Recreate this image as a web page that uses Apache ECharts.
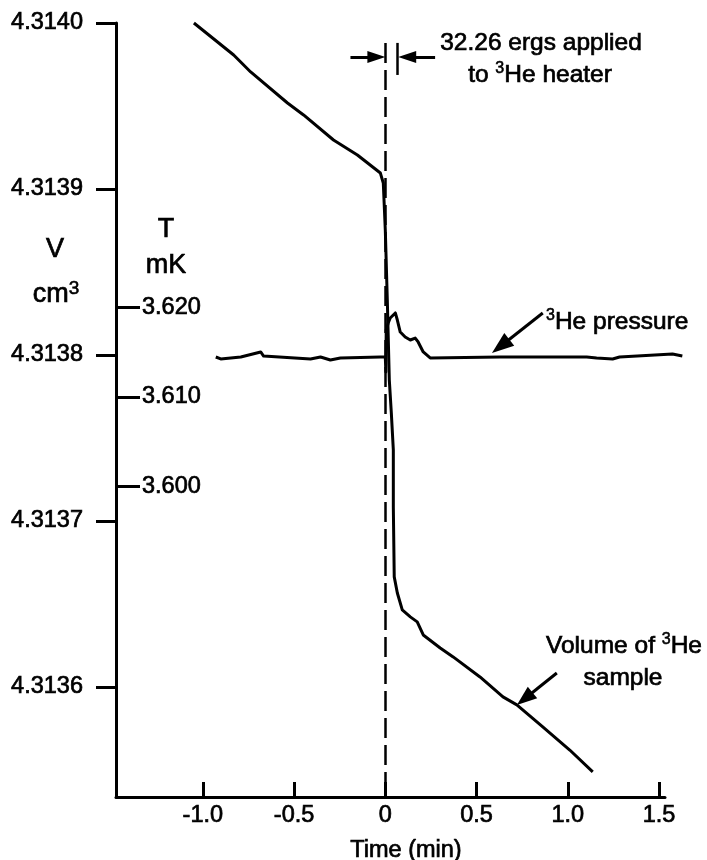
<!DOCTYPE html>
<html lang="en">
<head>
<meta charset="UTF-8">
<title>3He heater pulse</title>
<style>
    * { padding: 0; margin: 0; }
    #myChart { width: 707px; height: 860px; background: #fff; }
</style>
</head>
<body>
<div id="myChart"></div>
<script src="https://cdn.jsdelivr.net/npm/echarts@6/dist/echarts.min.js"></script>
<script>
// time axis (min)
const timeTicks = [-1, -0.5, 0, 0.5, 1, 1.5];
// left scale: sample volume (cm3) and temperature (mK)
const volumeTicks = [4.3136, 4.3137, 4.3138, 4.3139, 4.3140];
const tempTicks = [3.600, 3.610, 3.620];

// volume of 3He sample
const volumeTime = [-1.049, -0.831, -0.738, -0.536, -0.448, -0.284, -0.153, -0.027, -0.011,
    0.000, 0.011, 0.022, 0.033, 0.044, 0.044, 0.049, 0.066, 0.093, 0.137, 0.175, 0.208,
    0.301, 0.372, 0.519, 0.645, 0.721, 0.863, 1.011, 1.137];
const volumeValues = [4.3140000, 4.3139807, 4.3139705, 4.3139518, 4.3139446, 4.3139295, 4.3139205, 4.3139096, 4.3139036,
    4.3138753, 4.3138331, 4.3137849, 4.3137651, 4.3137428, 4.3137084, 4.3136663, 4.3136566, 4.3136464, 4.3136422, 4.3136392, 4.3136313,
    4.3136235, 4.3136181, 4.3136060, 4.3135940, 4.3135892, 4.3135759, 4.3135620, 4.3135488];

// 3He pressure trace, read on the T (mK) scale
const pressureTime = [-0.929, -0.902, -0.792, -0.683, -0.667, -0.410, -0.355, -0.301, -0.246, -0.027,
    0.000, 0.003, 0.005, 0.016, 0.027, 0.055, 0.066, 0.082, 0.109, 0.137, 0.164, 0.180, 0.208, 0.246,
    0.628, 0.699, 1.104, 1.158, 1.246, 1.284, 1.574, 1.628];
const pressureValues = [3.61447, 3.61425, 3.61447, 3.61503, 3.61458, 3.61425, 3.61447, 3.61413, 3.61436, 3.61447,
    3.61447, 3.61279, 3.61749, 3.61827, 3.61883, 3.61939, 3.61860, 3.61726, 3.61670, 3.61637, 3.61659, 3.61615, 3.61503, 3.61436,
    3.61447, 3.61447, 3.61447, 3.61436, 3.61425, 3.61447, 3.61480, 3.61458];

const FONT = 'Liberation Sans, Arial, Helvetica, sans-serif';
const FS = 23.5;      // tick labels, axis title
const FS_NOTE = 24.5; // annotations
const FS_UNIT = 27;   // V cm3 / T mK
const INK = '#000';
const BOLDEN = 0.7;   // scanned print looks a bit heavier than plain Helvetica

function zip(xs, ys) {
    return xs.map((x, i) => [x, ys[i]]);
}

let myChart = echarts.init(document.getElementById('myChart'), null, { renderer: 'canvas' });

const tLo = -1.476, tHi = 1.533;
const vMin = 4.3135337, vMax = 4.3140;
const tMin = 3.565307, tMax = 3.651788;

// the pressure trace runs a little past the end of the time axis,
// so it lives in a second (wider) grid with the same time scale
const gridLeft = 116, gridTop = 23, gridBottom = 63, gridRight = 42;
const pxPerMin = (707 - gridLeft - gridRight) / (tHi - tLo);
const tHiWide = 1.65;
const gridRightWide = 707 - gridLeft - (tHiWide - tLo) * pxPerMin;

// helper: line end with a filled triangle head
function arrow(from, to, size) {
    return [
        { coord: from, symbol: 'none' },
        { coord: to, symbol: 'triangle', symbolSize: size }
    ];
}

const labelFont = {
    color: INK,
    fontFamily: FONT,
    fontSize: FS,
    textBorderColor: INK,
    textBorderWidth: BOLDEN
};

function txt(x, y, text, size, align) {
    return {
        type: 'text', x: x, y: y,
        style: {
            text: text, fontFamily: FONT, fontSize: size, fill: INK,
            stroke: INK, lineWidth: BOLDEN,
            align: align || 'center', verticalAlign: 'middle'
        }
    };
}

// text with a superscript 3 ({s|3})
function richTxt(x, y, text, size, supSize, align) {
    return {
        type: 'text', x: x, y: y,
        style: {
            text: text, fill: INK, align: align || 'center', verticalAlign: 'middle',
            rich: {
                n: { fontFamily: FONT, fontSize: size, lineHeight: size + 5, fill: INK, stroke: INK, lineWidth: BOLDEN },
                s: { fontFamily: FONT, fontSize: supSize, lineHeight: size + 5, verticalAlign: 'top', fill: INK, stroke: INK, lineWidth: BOLDEN * 0.8 }
            }
        }
    };
}

let option = {
    backgroundColor: '#fff',
    animation: false,
    grid: [{
        left: gridLeft, right: gridRight, top: gridTop, bottom: gridBottom,
        outerBoundsMode: 'none'
    }, {
        left: gridLeft, right: gridRightWide, top: gridTop, bottom: gridBottom,
        outerBoundsMode: 'none'
    }],
    xAxis: [{
        type: 'value',
        gridIndex: 0,
        min: tLo,
        max: tHi,
        axisLine: { onZero: false, lineStyle: { color: INK, width: 3 } },
        axisTick: {
            inside: true,
            length: 15,
            customValues: timeTicks,
            lineStyle: { color: INK, width: 3 }
        },
        axisLabel: Object.assign({
            customValues: timeTicks,
            margin: 7,
            formatter: v => (v === 0 ? '0' : v.toFixed(1))
        }, labelFont),
        splitLine: { show: false }
    }, {
        type: 'value',
        gridIndex: 1,
        min: tLo,
        max: tHiWide,
        show: false
    }],
    yAxis: [{
        type: 'value',
        gridIndex: 0,
        min: vMin,
        max: vMax,
        position: 'left',
        axisLine: { show: true, onZero: false, lineStyle: { color: INK, width: 3 } },
        axisTick: {
            length: 20,
            customValues: volumeTicks,
            lineStyle: { color: INK, width: 3 }
        },
        axisLabel: Object.assign({
            customValues: volumeTicks,
            margin: 33,
            formatter: v => v.toFixed(4)
        }, labelFont),
        splitLine: { show: false }
    }, {
        type: 'value',
        gridIndex: 1,
        min: tMin,
        max: tMax,
        position: 'left',
        axisLine: { show: false, onZero: false },
        axisTick: {
            inside: true,
            length: 24,
            customValues: tempTicks,
            lineStyle: { color: INK, width: 3 }
        },
        axisLabel: Object.assign({
            inside: true,
            customValues: tempTicks,
            margin: 26,
            formatter: v => v.toFixed(3)
        }, labelFont),
        splitLine: { show: false }
    }],
    series: [{
        name: 'Volume of 3He sample',
        type: 'line',
        xAxisIndex: 0,
        yAxisIndex: 0,
        symbol: 'none',
        clip: false,
        emphasis: { disabled: true },
        lineStyle: { color: INK, width: 3, join: 'round' },
        data: zip(volumeTime, volumeValues),
        markLine: {
            silent: true,
            symbol: ['none', 'none'],
            label: { show: false },
            emphasis: { disabled: true },
            lineStyle: { color: INK, width: 3, type: 'solid' },
            data: [
                // heater switched on at t = 0
                [
                    { coord: [0, 4.3139880], lineStyle: { type: [20, 7], width: 2.5 } },
                    { coord: [0, vMin] }
                ],
                // end of the heat pulse
                [
                    { coord: [0.066, 4.3139880], lineStyle: { width: 2.5 } },
                    { coord: [0.066, 4.3139687] }
                ],
                arrow([-0.191, 4.3139795], [-0.049, 4.3139795], [12, 18]),
                arrow([0.273, 4.3139795], [0.120, 4.3139795], [12, 18]),
                arrow([0.940, 4.3136084], [0.764, 4.3135929], [15, 20])
            ]
        }
    }, {
        name: '3He pressure',
        type: 'line',
        xAxisIndex: 1,
        yAxisIndex: 1,
        symbol: 'none',
        clip: false,
        emphasis: { disabled: true },
        lineStyle: { color: INK, width: 3, join: 'round' },
        data: zip(pressureTime, pressureValues),
        markLine: {
            silent: true,
            symbol: ['none', 'none'],
            label: { show: false },
            emphasis: { disabled: true },
            lineStyle: { color: INK, width: 3, type: 'solid' },
            data: [
                arrow([0.863, 3.61939], [0.632, 3.615676], [16, 22])
            ]
        }
    }],
    graphic: [
        txt(55, 250, 'V', FS_UNIT),
        richTxt(56, 295, '{n|cm}{s|3}', FS_UNIT, 19),
        txt(166, 230, 'T', FS_UNIT),
        txt(166, 266, 'mK', FS_UNIT),
        txt(541, 43, '32.26 ergs applied', FS_NOTE),
        richTxt(540, 75, '{n|to }{s|3}{n|He heater}', FS_NOTE, 16),
        richTxt(546, 322, '{s|3}{n|He pressure}', FS_NOTE, 16, 'left'),
        richTxt(624, 646, '{n|Volume of }{s|3}{n|He}', FS_NOTE, 16),
        txt(623, 678, 'sample', FS_NOTE),
        txt(406, 851, 'Time (min)', FS)
    ]
};

myChart.setOption(option, true);
</script>
</body>
</html>
